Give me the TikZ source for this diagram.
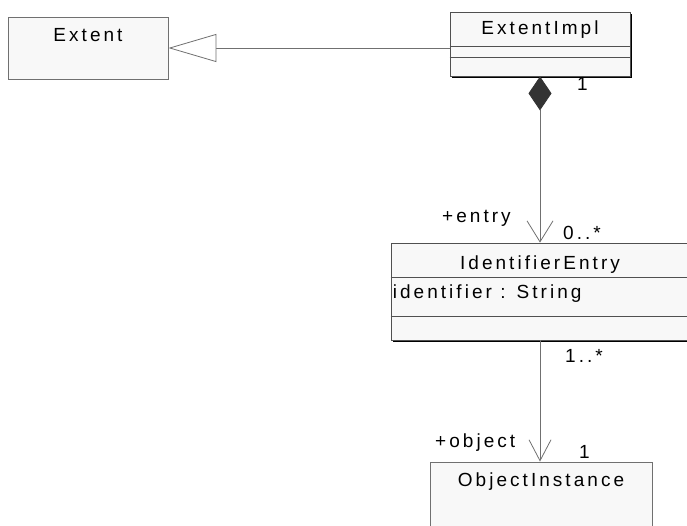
\documentclass[tikz,border=0pt]{standalone}
\usepackage{fontspec}
\setmainfont{Liberation Sans}[LetterSpace=16]
\usetikzlibrary{arrows.meta}
\usetikzlibrary{calc}
\usetikzlibrary{shadows}
\definecolor{umlfill}{HTML}{F8F8F8}
\definecolor{umlline}{HTML}{707070}
\definecolor{umledge}{HTML}{505050}
\definecolor{umldiam}{HTML}{333333}

\begin{document}
\begin{tikzpicture}[x=1pt,y=-1pt,
        classbox/.style={draw=umlline, fill=umlfill, line width=0.8pt, inner sep=0pt},
        shadowbox/.style={classbox, draw=umledge, drop shadow={shadow xshift=1.5pt, shadow yshift=-1.5pt, fill=black, opacity=1}},
        umltext/.style={inner sep=0pt, font=\fontsize{19}{22}\selectfont},
        classtitle/.style={umltext, anchor=base},
        rolelabel/.style={umltext, anchor=base west},
        assoc/.style={draw=umlline, line width=0.8pt}]
        \newcommand{\figumltitledown}{25}
        \useasboundingbox (0,0) rectangle (687,525);
        \clip (0,0) rectangle (687,525);
        % class boxes
        \node[classbox, minimum width=160pt, minimum height=62pt] (extent) at (88,48) {};
        \node[classtitle] (extenttitle) at ($(extent.north)+(0,\figumltitledown)$) {Extent};
        \node[shadowbox, minimum width=180pt, minimum height=64pt] (impl) at (540,44) {};
        \node[classtitle] (impltitle) at ($(impl.north)+(0,\figumltitledown-2)$) {ExtentImpl};
        \draw[umledge, line width=0.8pt] ($(impl.north west)+(0,35)$) -- ($(impl.north east)+(0,35)$);
        \draw[umledge, line width=0.8pt] ($(impl.north west)+(0,46)$) -- ($(impl.north east)+(0,46)$);
        \node[shadowbox, minimum width=298pt, minimum height=97pt] (entry) at (540,291.5) {};
        \node[classtitle] (entrytitle) at ($(entry.north)+(0,\figumltitledown+2)$) {IdentifierEntry};
        \draw[umledge, line width=0.8pt] ($(entry.north west)+(0,35)$) -- ($(entry.north east)+(0,35)$);
        \draw[umledge, line width=0.8pt] ($(entry.north west)+(0,74)$) -- ($(entry.north east)+(0,74)$);
        \node[rolelabel] (entryattr) at ($(entry.north west)+(2,56)$) {identifier : String};
        \node[classbox, minimum width=222pt, minimum height=70pt] (object) at (541,497) {};
        \node[classtitle] (objecttitle) at ($(object.north)+(0,\figumltitledown)$) {ObjectInstance};
        % connectors
        \draw[assoc, -{Triangle[open, fill=white, length=48pt, width=28pt]}] (impl.west |- extent.east) -- (extent.east);
        \draw[assoc, {Diamond[length=34pt, width=23pt, fill=umldiam, color=umldiam]}-{Straight Barb[length=21pt, width=26pt]}] (impl.south) -- (entry.north);
        \draw[assoc, -{Straight Barb[length=21pt, width=22pt]}] (entry.south) -- (entry.south |- object.north);
        % ends
        \node[rolelabel] (implmult) at ($(impl.south)+(37,14)$) {1};
        \node[rolelabel] (entryrole) at ($(entry.north)+(-98,-20)$) {+entry};
        \node[rolelabel] (entrymult) at ($(entry.north)+(23,-3)$) {0..*};
        \node[rolelabel] (objectmult) at ($(entry.south)+(25,22)$) {1..*};
        \node[rolelabel] (objectrole) at ($(object.north)+(-106,-14)$) {+object};
        \node[rolelabel] (objectone) at ($(object.north)+(38,-3)$) {1};
\end{tikzpicture}
\end{document}
